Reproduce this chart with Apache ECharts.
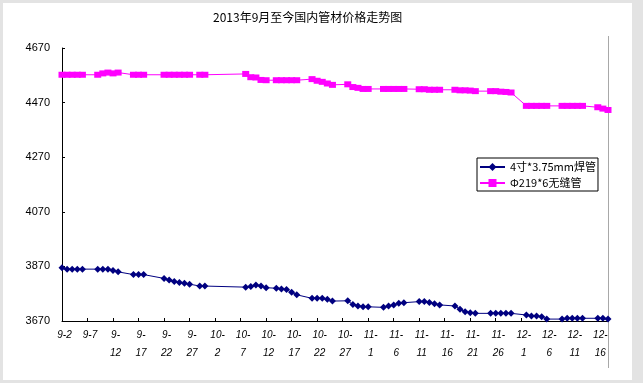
<!DOCTYPE html>
<html><head><meta charset="utf-8">
<script src="https://cdn.jsdelivr.net/npm/echarts@6/dist/echarts.min.js"></script>
<style>html,body{margin:0;padding:0;background:#fff}#c{width:643px;height:383px}</style>
</head><body><div id="c"></div>
<script>
// ---- data ----
const titleText = '2013年9月至今国内管材价格走势图';
const seriesNames = ['4寸*3.75mm焊管', 'Φ219*6无缝管'];
const firstDay = '2013-09-02';
const lastDay = '2013-12-18';
const yTicks = [3670, 3870, 4070, 4270, 4470, 4670];
const tradeDates = ['9-2','9-3','9-4','9-5','9-6','9-9','9-10','9-11','9-12','9-13','9-16','9-17','9-18',
 '9-22','9-23','9-24','9-25','9-26','9-27','9-29','9-30','10-8','10-9','10-10','10-11','10-12',
 '10-14','10-15','10-16','10-17','10-18','10-21','10-22','10-23','10-24','10-25','10-28','10-29','10-30','10-31','11-1',
 '11-4','11-5','11-6','11-7','11-8','11-11','11-12','11-13','11-14','11-15','11-18','11-19','11-20','11-21','11-22',
 '11-25','11-26','11-27','11-28','11-29','12-2','12-3','12-4','12-5','12-6','12-9','12-10','12-11','12-12','12-13',
 '12-16','12-17','12-18'];
const weldedPipe = [3865,3860,3860,3860,3860,
 3860,3860,3860,3855,3850,
 3840,3840,3840,
 3826,3820,3815,3811,3808,3805,
 3798,3798,
 3794,3796,3802,3798,3792,
 3790,3787,3785,3775,3766,
 3753,3753,3753,3750,3743,
 3744,3730,3725,3722,3722,
 3720,3725,3729,3735,3737,
 3741,3741,3738,3733,3729,
 3725,3713,3704,3700,3698,
 3698,3698,3698,3698,3698,
 3692,3688,3688,3686,3677,
 3677,3680,3680,3680,3680,
 3680,3680,3677];
const seamlessPipe = [4572,4572,4572,4572,4572,
 4572,4577,4580,4577,4580,
 4572,4572,4572,
 4572,4572,4572,4572,4572,4572,
 4572,4572,
 4575,4563,4562,4553,4552,
 4552,4552,4552,4552,4552,
 4556,4550,4546,4540,4535,
 4537,4527,4524,4520,4520,
 4520,4520,4520,4520,4520,
 4519,4519,4517,4517,4517,
 4517,4515,4515,4514,4512,
 4512,4512,4510,4509,4507,
 4458,4458,4458,4458,4458,
 4458,4458,4458,4458,4458,
 4453,4448,4443];

// ---- build calendar categories ----
const days = [];
{
  const d = new Date(firstDay + 'T00:00:00');
  const end = new Date(lastDay + 'T00:00:00');
  while (d <= end) { days.push((d.getMonth() + 1) + '-' + d.getDate()); d.setDate(d.getDate() + 1); }
}
const pairs = vals => tradeDates.map((t, i) => [t, vals[i]]);

const chart = echarts.init(document.getElementById('c'));
chart.setOption({
  backgroundColor: '#e3e3e3',
  animation: false,
  graphic: [
    { type: 'rect', z: -100, silent: true, shape: { x: 3, y: 3, width: 629, height: 377 }, style: { fill: '#ffffff' } },
    { type: 'line', silent: true, shape: { x1: 608.5, y1: 36, x2: 608.5, y2: 368 }, style: { stroke: '#a8a8a8', lineWidth: 1 } }
  ],
  title: {
    text: titleText, left: 213, top: 11, padding: 0,
    textStyle: { fontFamily: 'Noto Sans CJK SC', fontSize: 12, fontWeight: 'normal', color: '#000' }
  },
  legend: {
    orient: 'vertical', left: 477, top: 158,
    padding: [3, 2, 2, 2], itemGap: 4, itemWidth: 25, itemHeight: 10,
    borderColor: '#000', borderWidth: 1, backgroundColor: '#fff',
    textStyle: { fontFamily: 'Noto Sans CJK SC', fontSize: 11, color: '#000', lineHeight: 12 },
    data: seriesNames
  },
  grid: { left: 62, right: 35, top: 48, bottom: 62, containLabel: false },
  xAxis: {
    type: 'category', data: days, boundaryGap: false,
    axisLine: { lineStyle: { color: '#000', width: 1 } },
    axisTick: { inside: true, length: 3, interval: 4, lineStyle: { color: '#000' } },
    axisLabel: {
      interval: 4, margin: 5, verticalAlign: 'top', lineHeight: 18,
      fontFamily: 'Liberation Sans', fontStyle: 'italic', fontSize: 10, color: '#000',
      padding: [0, 0, 0, 5],
      formatter: v => v.length <= 3 ? v : v.replace('-', '-\n')
    },
    splitLine: { show: false }
  },
  yAxis: {
    type: 'value', min: yTicks[0], max: yTicks[yTicks.length - 1],
    axisLine: { show: true, lineStyle: { color: '#000', width: 1 } },
    axisTick: { show: true, inside: true, length: 3, customValues: yTicks, lineStyle: { color: '#000' } },
    axisLabel: { customValues: yTicks, margin: 12, fontFamily: 'Liberation Sans', fontSize: 11, color: '#000',
      formatter: v => String(v) },
    splitLine: { show: false }
  },
  series: [
    {
      name: seriesNames[0], type: 'line', data: pairs(weldedPipe),
      symbol: 'diamond', symbolSize: 7, showSymbol: true, showAllSymbol: true,
      itemStyle: { color: '#000080' }, lineStyle: { color: '#000080', width: 1 }
    },
    {
      name: seriesNames[1], type: 'line', data: pairs(seamlessPipe),
      symbol: 'rect', symbolSize: [7, 6], showSymbol: true, showAllSymbol: true,
      itemStyle: { color: '#ff00ff' }, lineStyle: { color: '#ff00ff', width: 1 }
    }
  ]
});
</script></body></html>
